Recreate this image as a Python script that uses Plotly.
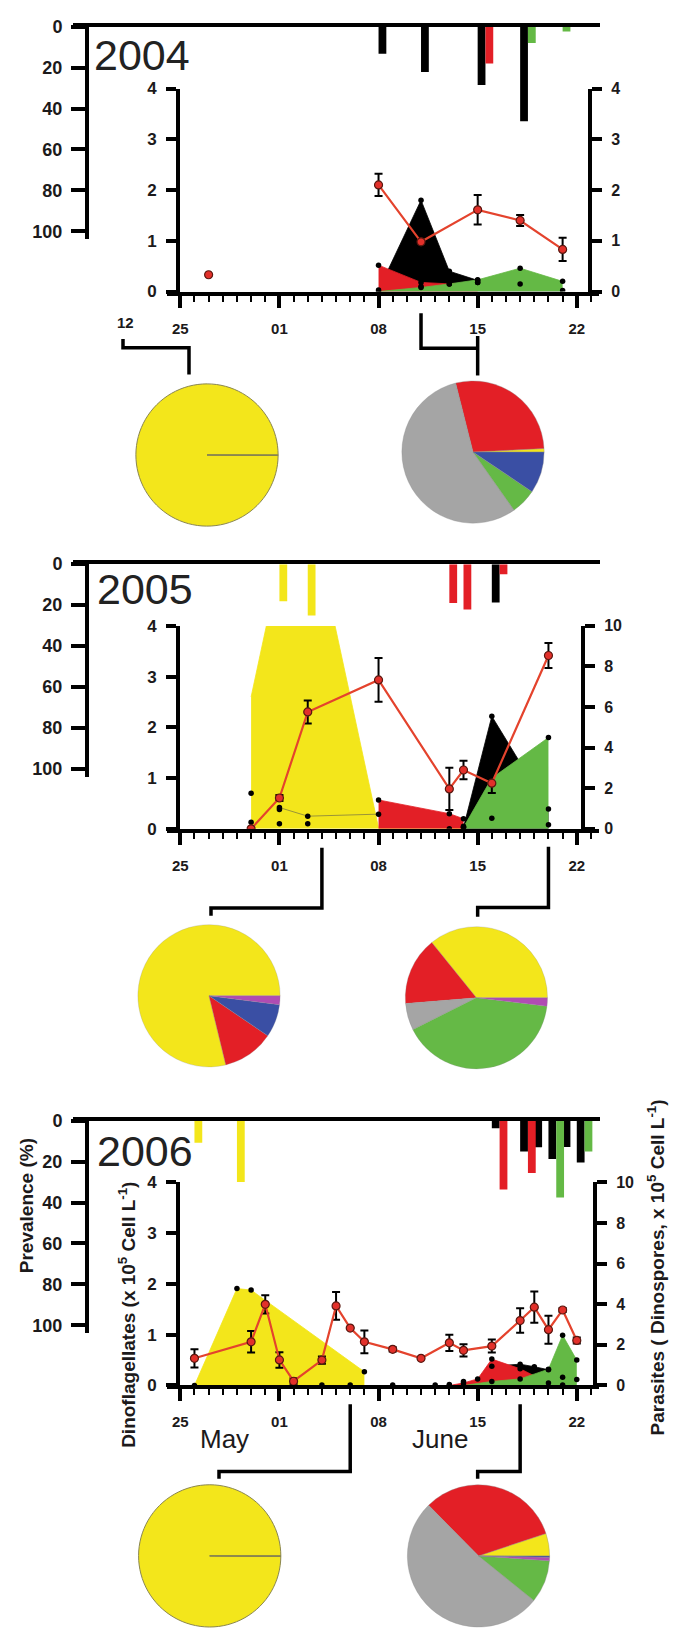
import plotly.graph_objects as go
import pandas as pd

W, H = 673, 1637
FONT = "Liberation Sans, Arial, Helvetica, sans-serif"
INK = "#1c1a1b"

# ===================== DATA =====================
years = [2004, 2005, 2006]
year_labels = ["2004", "2005", "2006"]
week_ticks = ["05-25", "06-01", "06-08", "06-15", "06-22"]
week_ticktext = ["25", "01", "08", "15", "22"]
prev_ticks = [0, 20, 40, 60, 80, 100]

# --- prevalence of infection (%), bars hanging from the top axis ---
prev04_dates = ["2004-06-08", "2004-06-11", "2004-06-15", "2004-06-18", "2004-06-21"]
prev04_black = [13.2, 22.1, 28.5, 46.2, None]
prev04_red = [None, None, 18.0, None, None]
prev04_green = [None, None, None, 7.9, 2.3]
prev04_yellow = [None, None, None, None, None]

prev05_dates = ["2005-06-01", "2005-06-03", "2005-06-13", "2005-06-14", "2005-06-16"]
prev05_black = [None, None, None, None, 18.7]
prev05_red = [None, None, 19.0, 22.2, 5.0]
prev05_green = [None, None, None, None, None]
prev05_yellow = [18.2, 25.1, None, None, None]

prev06_dates = ["2006-05-26", "2006-05-29", "2006-06-16", "2006-06-18",
                "2006-06-19", "2006-06-20", "2006-06-21", "2006-06-22"]
prev06_black = [None, None, 3.7, 15.0, 13.0, 18.7, 12.8, 20.4]
prev06_red = [None, None, 33.6, 25.6, None, None, None, None]
prev06_green = [None, None, None, None, None, 37.5, None, 15.0]
prev06_yellow = [10.8, 30.0, None, None, None, None, None, None]

# --- dinoflagellate abundance (x10^5 cells/L), filled areas ---
dino04_black_d = ["2004-06-08", "2004-06-11", "2004-06-13", "2004-06-15", "2004-06-18", "2004-06-21"]
dino04_black_v = [0.03, 1.80, 0.40, 0.22, 0.15, 0.02]
dino04_red_d = ["2004-06-08", "2004-06-11", "2004-06-13", "2004-06-15"]
dino04_red_v = [0.52, 0.18, 0.15, 0.18]
dino04_green_d = ["2004-06-08", "2004-06-11", "2004-06-13", "2004-06-15", "2004-06-18", "2004-06-21"]
dino04_green_v = [0.0, 0.08, 0.15, 0.23, 0.46, 0.20]
dino04_other_d = ["2004-06-11", "2004-06-15"]
dino04_other_v = [0.10, 0.18]

dino05_yellow_d = ["2005-05-30", "2005-06-01", "2005-06-03", "2005-06-08", "2005-06-13", "2005-06-14"]
dino05_yellow_v = [2.6, 5.2, 6.5, 0.02, 0.03, 0.0]
dino05_red_d = ["2005-06-08", "2005-06-13", "2005-06-14"]
dino05_red_v = [0.57, 0.30, 0.20]
dino05_black_d = ["2005-06-14", "2005-06-16", "2005-06-20"]
dino05_black_v = [0.03, 2.22, 0.39]
dino05_green_d = ["2005-06-14", "2005-06-16", "2005-06-20"]
dino05_green_v = [0.03, 1.00, 1.80]
dino05_thin_d = ["2005-06-01", "2005-06-03", "2005-06-08"]
dino05_thin_v = [0.42, 0.25, 0.29]
dino05_other_d = ["2005-05-30", "2005-05-30", "2005-06-01", "2005-06-01", "2005-06-01",
                  "2005-06-03", "2005-06-03", "2005-06-08", "2005-06-13", "2005-06-14",
                  "2005-06-16", "2005-06-20"]
dino05_other_v = [0.70, 0.13, 0.42, 0.38, 0.10, 0.25, 0.10, 0.29, 0.0, 0.05, 0.21, 0.08]

dino06_yellow_d = ["2006-05-26", "2006-05-29", "2006-05-30", "2006-06-07"]
dino06_yellow_v = [0.0, 1.91, 1.88, 0.27]
dino06_black_d = ["2006-06-16", "2006-06-18", "2006-06-19", "2006-06-20"]
dino06_black_v = [0.38, 0.42, 0.37, 0.31]
dino06_red_d = ["2006-06-13", "2006-06-14", "2006-06-15", "2006-06-16", "2006-06-18", "2006-06-20"]
dino06_red_v = [0.0, 0.05, 0.13, 0.52, 0.33, 0.05]
dino06_green_d = ["2006-06-14", "2006-06-16", "2006-06-18", "2006-06-20", "2006-06-21", "2006-06-22"]
dino06_green_v = [0.0, 0.08, 0.13, 0.32, 0.99, 0.50]
dino06_other_d = ["2006-06-02", "2006-06-04", "2006-06-06", "2006-06-09", "2006-06-12",
                  "2006-06-13", "2006-06-14", "2006-06-21", "2006-06-21", "2006-06-22"]
dino06_other_v = [0.01, 0.01, 0.01, 0.01, 0.01, 0.02, 0.08, 0.16, 0.01, 0.12]

# --- parasites (dinospores, x10^5 cells/L) with error bars ---
par04_d = ["2004-06-08", "2004-06-11", "2004-06-15", "2004-06-18", "2004-06-21"]
par04_v = [2.10, 0.98, 1.61, 1.40, 0.83]
par04_e = [0.22, 0.0, 0.29, 0.11, 0.23]
par04_early_d = ["2004-05-27"]
par04_early_v = [0.33]

par05_d = ["2005-05-30", "2005-06-01", "2005-06-03", "2005-06-08",
           "2005-06-13", "2005-06-14", "2005-06-16", "2005-06-20"]
par05_v = [0.0, 1.52, 5.76, 7.34, 1.97, 2.90, 2.25, 8.54]
par05_e = [0.0, 0.15, 0.57, 1.08, 1.04, 0.46, 0.48, 0.62]

par06_d = ["2006-05-26", "2006-05-30", "2006-05-31", "2006-06-01", "2006-06-02",
           "2006-06-04", "2006-06-05", "2006-06-06", "2006-06-07", "2006-06-09",
           "2006-06-11", "2006-06-13", "2006-06-14", "2006-06-16", "2006-06-18",
           "2006-06-19", "2006-06-20", "2006-06-21", "2006-06-22"]
par06_v = [1.34, 2.15, 4.00, 1.26, 0.21, 1.25, 3.92, 2.83, 2.15, 1.78,
           1.34, 2.10, 1.73, 1.94, 3.20, 3.86, 2.75, 3.72, 2.22]
par06_e = [0.45, 0.53, 0.45, 0.38, 0.15, 0.18, 0.68, 0.0, 0.56, 0.10,
           0.0, 0.40, 0.30, 0.32, 0.60, 0.77, 0.69, 0.10, 0.15]

# --- pie charts: community composition (%), counter-clockwise from 3 o'clock ---
pie04L_groups = ["Y", "edge"]
pie04L_pct = [99.9, 0.1]
pie04R_groups = ["Y", "R", "Gy", "Gn", "B"]
pie04R_pct = [0.8, 28.1, 55.8, 5.8, 9.4]
pie05L_groups = ["Y", "R", "B", "M"]
pie05L_pct = [78.8, 11.7, 7.5, 2.0]
pie05R_groups = ["Y", "R", "Gy", "Gn", "M"]
pie05R_pct = [35.8, 15.5, 6.1, 40.7, 1.9]
pie06L_groups = ["Y", "edge"]
pie06L_pct = [99.9, 0.1]
pie06R_groups = ["Y", "R", "Gy", "Gn", "M", "B"]
pie06R_pct = [5.1, 32.3, 51.8, 9.7, 0.8, 0.3]

# date at which each pie's bracket leaves the time axis
bracket04_right = ["2004-06-11", "2004-06-15"]
bracket05_left = ["2005-06-04"]
bracket05_right = ["2005-06-20", "2005-06-15"]
bracket06_left = ["2006-06-06"]
bracket06_right = ["2006-06-18", "2006-06-15"]

# ===================== STYLE =====================
COL = {"black": "#000000", "red": "#e31f26", "green": "#64b945", "yellow": "#f3e61b"}
PIE_COL = {"Y": "#f3e61b", "R": "#e31f26", "Gy": "#a5a5a5", "Gn": "#65b946",
           "B": "#3a4fa4", "M": "#b04cb3", "edge": "#3d3d2a"}
PAR_LINE = "#e4432d"
PAR_FILL = "#e2302a"

X0, PPD = 180.3, 14.16            # pixel of 25 May, pixels per day
PANEL_TOP = [17.0, 561.0, 1124.5]
RIGHT_X = [590, 583, 595]
RIGHT_MAX = [4, 10, 10]
RIGHT_DTICK = [1, 2, 2]
YEAR_Y = [46, 586, 1155]
YEAR_X = [92, 95, 95]
BAR_SLOT = 0.55
BAR_W_MS = 0.55 * 86400000
TF_PREV = dict(family=FONT, size=18, color=INK, weight="bold")
TF_Y = dict(family=FONT, size=17, color=INK, weight="bold")
TF_R = dict(family=FONT, size=16, color=INK, weight="bold")
TF_X = dict(family=FONT, size=15, color=INK, weight="bold")


def pxx(px):
    return min(1.0, max(0.0, px / W))


def pxy(py):
    return min(1.0, max(0.0, 1 - py / H))


def date_at(year, px):
    t = pd.Timestamp(f"{year}-05-25") + pd.Timedelta(days=(px - X0) / PPD)
    return t.strftime("%Y-%m-%d %H:%M:%S")


def day_px(date):
    t = pd.Timestamp(date)
    return X0 + (t - pd.Timestamp(f"{t.year}-05-25")) / pd.Timedelta(days=1) * PPD


def axn(kind, n):
    return f"{kind}axis" if n == 1 else f"{kind}axis{n}"


def ref(kind, n):
    return kind if n == 1 else f"{kind}{n}"


fig = go.Figure()
layout = dict(width=W, height=H, margin=dict(l=0, r=0, t=0, b=0, pad=0),
              paper_bgcolor="white", plot_bgcolor="rgba(0,0,0,0)",
              showlegend=False, barmode="overlay", hovermode=False,
              font=dict(family=FONT, color=INK))

prev_sets = [
    (prev04_dates, [("black", prev04_black), ("red", prev04_red), ("green", prev04_green), ("yellow", prev04_yellow)]),
    (prev05_dates, [("black", prev05_black), ("red", prev05_red), ("green", prev05_green), ("yellow", prev05_yellow)]),
    (prev06_dates, [("black", prev06_black), ("red", prev06_red), ("green", prev06_green), ("yellow", prev06_yellow)]),
]
area_sets = [
    [("black", dino04_black_d, dino04_black_v, True), ("red", dino04_red_d, dino04_red_v, True),
     ("green", dino04_green_d, dino04_green_v, True)],
    [("yellow", dino05_yellow_d, dino05_yellow_v, False), ("red", dino05_red_d, dino05_red_v, True),
     ("black", dino05_black_d, dino05_black_v, True), ("green", dino05_green_d, dino05_green_v, True)],
    [("yellow", dino06_yellow_d, dino06_yellow_v, True), ("black", dino06_black_d, dino06_black_v, True),
     ("red", dino06_red_d, dino06_red_v, True), ("green", dino06_green_d, dino06_green_v, True)],
]
other_sets = [(dino04_other_d, dino04_other_v), (dino05_other_d, dino05_other_v), (dino06_other_d, dino06_other_v)]
thin_sets = [None, (dino05_thin_d, dino05_thin_v), None]
par_sets = [(par04_d, par04_v, par04_e), (par05_d, par05_v, par05_e), (par06_d, par06_v, par06_e)]

for p, yr in enumerate(years):
    T = PANEL_TOP[p]
    bx, mx = 2 * p + 1, 2 * p + 2
    by, ly, ry = 3 * p + 1, 3 * p + 2, 3 * p + 3

    # ---- axes ----
    layout[axn("x", bx)] = dict(domain=[pxx(73), pxx(600)], range=[date_at(yr, 73), date_at(yr, 600)],
                                type="date", anchor=ref("y", by), side="top", showline=True,
                                linewidth=4, linecolor="black", ticks="", showticklabels=False,
                                showgrid=False, zeroline=False)
    layout[axn("y", by)] = dict(domain=[pxy(T + 215.3), pxy(T)], range=[104, 0], anchor="free",
                                position=pxx(87), showline=True, linewidth=4, linecolor="black",
                                ticks="outside", ticklen=14, tickwidth=4, tickcolor="black",
                                tickvals=prev_ticks, tickfont=TF_PREV, ticklabelstandoff=5,
                                showgrid=False, zeroline=False)
    layout[axn("x", mx)] = dict(domain=[pxx(167), pxx(599)], range=[date_at(yr, 167), date_at(yr, 599)],
                                type="date", anchor=ref("y", ly), showline=True, linewidth=4,
                                linecolor="black", ticks="outside", ticklen=12, tickwidth=4,
                                tickcolor="black", tickvals=[f"{yr}-{t}" for t in week_ticks],
                                ticktext=week_ticktext, tickfont=TF_X, ticklabelstandoff=8,
                                minor=dict(dtick=86400000, ticks="outside", ticklen=6, tickwidth=2,
                                           tickcolor="black", showgrid=False),
                                showgrid=False, zeroline=False)
    layout[axn("y", ly)] = dict(domain=[pxy(T + 268), pxy(T + 62.5)], range=[0, 4], anchor="free",
                                position=pxx(178), showline=True, linewidth=4, linecolor="black",
                                ticks="outside", ticklen=10, tickwidth=4, tickcolor="black",
                                tick0=0, dtick=1, tickfont=TF_Y, ticklabelstandoff=6,
                                showgrid=False, zeroline=False)
    layout[axn("y", ry)] = dict(domain=[pxy(T + 268), pxy(T + 62.5)], range=[0, RIGHT_MAX[p]],
                                overlaying=ref("y", ly), side="right", anchor="free",
                                position=pxx(RIGHT_X[p]), showline=True, linewidth=4, linecolor="black",
                                ticks="outside", ticklen=10, tickwidth=4, tickcolor="black",
                                tick0=0, dtick=RIGHT_DTICK[p], tickfont=TF_R, ticklabelstandoff=6,
                                showgrid=False, zeroline=False)

    # ---- prevalence bars ----
    dates, series = prev_sets[p]
    slot = {d: 0 for d in dates}
    for cname, vals in series:
        xs, ys = [], []
        for d, v in zip(dates, vals):
            if v is None:
                continue
            t = pd.Timestamp(d) + pd.Timedelta(days=BAR_SLOT * slot[d])
            slot[d] += 1
            xs.append(t.strftime("%Y-%m-%d %H:%M:%S"))
            ys.append(v)
        if xs:
            fig.add_trace(go.Bar(x=xs, y=ys, base=0, width=BAR_W_MS, offset=0,
                                 marker=dict(color=COL[cname], line=dict(width=0)),
                                 xaxis=ref("x", bx), yaxis=ref("y", by)))

    # ---- dinoflagellate areas ----
    dot_x, dot_y = [], []
    for cname, d, v, dots in area_sets[p]:
        fig.add_trace(go.Scatter(x=d, y=v, mode="lines", fill="tozeroy", fillcolor=COL[cname],
                                 line=dict(color=COL[cname], width=0.8),
                                 xaxis=ref("x", mx), yaxis=ref("y", ly)))
        if dots:
            dot_x += d
            dot_y += v
    if thin_sets[p] is not None:
        fig.add_trace(go.Scatter(x=thin_sets[p][0], y=thin_sets[p][1], mode="lines",
                                 line=dict(color="rgba(80,80,80,0.55)", width=1),
                                 xaxis=ref("x", mx), yaxis=ref("y", ly)))
    dot_x += other_sets[p][0]
    dot_y += other_sets[p][1]
    fig.add_trace(go.Scatter(x=dot_x, y=dot_y, mode="markers",
                             marker=dict(color="black", size=5.5),
                             xaxis=ref("x", mx), yaxis=ref("y", ly)))

    # ---- parasites line (right axis) ----
    d, v, e = par_sets[p]
    fig.add_trace(go.Scatter(x=d, y=v, mode="lines+markers",
                             line=dict(color=PAR_LINE, width=2.2),
                             marker=dict(color=PAR_FILL, size=8, line=dict(color="#5a1810", width=1.2)),
                             error_y=dict(type="data", array=e, visible=True, color="black",
                                          thickness=2, width=4),
                             xaxis=ref("x", mx), yaxis=ref("y", ry)))
    if p == 0:
        fig.add_trace(go.Scatter(x=par04_early_d, y=par04_early_v, mode="markers",
                                 marker=dict(color=PAR_FILL, size=8, line=dict(color="#5a1810", width=1.2)),
                                 xaxis=ref("x", mx), yaxis=ref("y", ry)))

# ---- pies ----
pies = [
    (pie04L_groups, pie04L_pct, 207, 450.5, "#8a8650", 1.0),
    (pie04R_groups, pie04R_pct, 473, 447.5, "rgba(140,140,140,0.6)", 0.6),
    (pie05L_groups, pie05L_pct, 209, 998, "rgba(140,140,140,0.5)", 0.5),
    (pie05R_groups, pie05R_pct, 476.4, 1000, "rgba(140,140,140,0.5)", 0.5),
    (pie06L_groups, pie06L_pct, 209.7, 1565, "#8a8650", 1.0),
    (pie06R_groups, pie06R_pct, 478.5, 1565, "rgba(140,140,140,0.6)", 0.6),
]
R = 72
for groups, pct, cx, cy, lc, lw in pies:
    # plotly puts the first counter-clockwise slice *before* the start angle, so shift it
    rot = 90 - 360.0 * pct[0] / sum(pct)
    fig.add_trace(go.Pie(labels=groups, values=pct, sort=False, direction="counterclockwise",
                         rotation=rot, textinfo="none", hoverinfo="skip",
                         marker=dict(colors=[PIE_COL[g] for g in groups], line=dict(color=lc, width=lw)),
                         domain=dict(x=[pxx(cx - R), pxx(cx + R)], y=[pxy(cy + R), pxy(cy - R)])))

# ---- brackets linking dates to pies ----
def path(points):
    return "M " + " L ".join(f"{pxx(x):.5f} {pxy(y):.5f}" for x, y in points)

brackets = [
    [(123, 333), (123, 342), (189, 342), (189, 369)],
    [(day_px(bracket04_right[0]), 307), (day_px(bracket04_right[0]), 342.5), (day_px(bracket04_right[1]), 342.5)],
    [(day_px(bracket04_right[1]), 330), (day_px(bracket04_right[1]), 370)],
    [(day_px(bracket05_left[0]), 848), (day_px(bracket05_left[0]), 909), (211, 909), (211, 917)],
    [(day_px(bracket05_right[0]), 847), (day_px(bracket05_right[0]), 908.5),
     (day_px(bracket05_right[1]), 908.5), (day_px(bracket05_right[1]), 918)],
    [(day_px(bracket06_left[0]), 1411.5), (day_px(bracket06_left[0]), 1479.5), (219, 1479.5), (219, 1487)],
    [(day_px(bracket06_right[0]), 1411.5), (day_px(bracket06_right[0]), 1479.5),
     (day_px(bracket06_right[1]), 1479.5), (day_px(bracket06_right[1]), 1487)],
]
shapes = [dict(type="path", xref="paper", yref="paper", path=path(b),
               line=dict(color="black", width=3.5)) for b in brackets]
layout["shapes"] = shapes

# ---- text ----
ann = []
for p in range(3):
    ann.append(dict(text=year_labels[p], x=pxx(YEAR_X[p]), y=pxy(YEAR_Y[p]), xref="paper", yref="paper",
                    xanchor="left", yanchor="middle", showarrow=False,
                    font=dict(family=FONT, size=43, color="#222")))
ann.append(dict(text="12", x=pxx(125.5), y=pxy(316), xref="paper", yref="paper", showarrow=False,
                xanchor="center", yanchor="middle", font=TF_X))
ann.append(dict(text="May", x=pxx(224), y=pxy(1447), xref="paper", yref="paper", showarrow=False,
                xanchor="center", yanchor="middle", font=dict(family=FONT, size=26, color=INK)))
ann.append(dict(text="June", x=pxx(440), y=pxy(1447), xref="paper", yref="paper", showarrow=False,
                xanchor="center", yanchor="middle", font=dict(family=FONT, size=26, color=INK)))
TITLE_F = dict(family=FONT, size=19, color=INK, weight="bold")
ann.append(dict(text="Prevalence (%)", x=pxx(26), y=pxy(1211), xref="paper", yref="paper",
                textangle=-90, showarrow=False, xanchor="center", yanchor="middle", font=TITLE_F))
ann.append(dict(text="Dinoflagellates (x 10<sup>5</sup> Cell L<sup>-1</sup>)", x=pxx(127), y=pxy(1321),
                xref="paper", yref="paper", textangle=-90, showarrow=False,
                xanchor="center", yanchor="middle", font=TITLE_F))
ann.append(dict(text="Parasites ( Dinospores, x 10<sup>5</sup> Cell L<sup>-1</sup>)", x=pxx(656), y=pxy(1273),
                xref="paper", yref="paper", textangle=-90, showarrow=False,
                xanchor="center", yanchor="middle", font=TITLE_F))
layout["annotations"] = ann

fig.update_layout(**layout)
fig.write_html("out.html", config={"displayModeBar": False},
               post_script="document.body.style.margin='0px';document.body.style.overflow='hidden';")
